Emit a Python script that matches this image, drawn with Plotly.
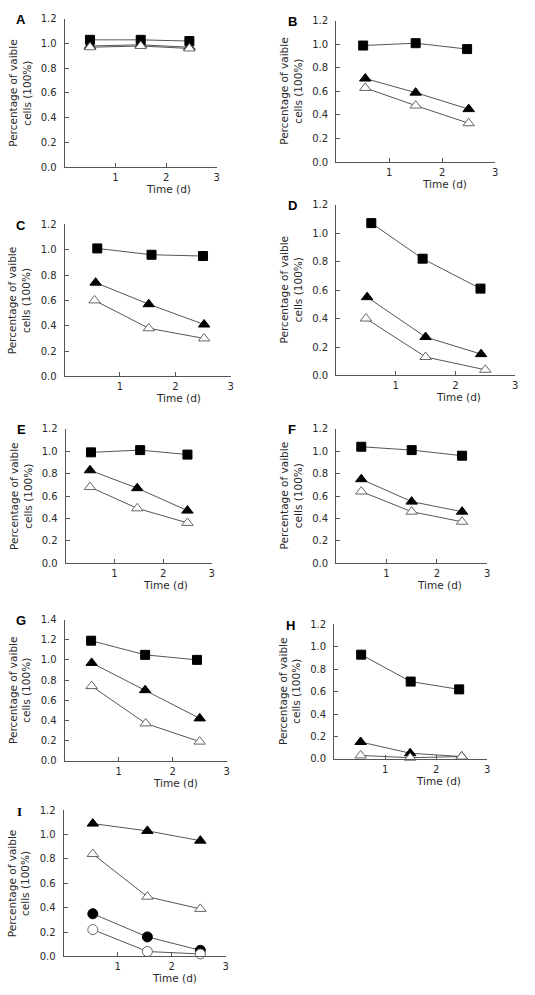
import plotly.graph_objects as go

W, H = 535, 995

# ---- data (x = time in days, y = fraction of viable cells) ----
A_sq_x = [0.5, 1.5, 2.46]; A_sq_y = [1.03, 1.03, 1.02]
A_ft_x = [0.5, 1.5, 2.46]; A_ft_y = [0.98, 0.99, 0.97]
A_ot_x = [0.5, 1.5, 2.46]; A_ot_y = [0.97, 0.98, 0.96]

B_sq_x = [0.51, 1.5, 2.47]; B_sq_y = [0.99, 1.01, 0.96]
B_ft_x = [0.55, 1.5, 2.5]; B_ft_y = [0.71, 0.59, 0.45]
B_ot_x = [0.55, 1.5, 2.5]; B_ot_y = [0.63, 0.48, 0.33]

C_sq_x = [0.59, 1.57, 2.5]; C_sq_y = [1.01, 0.96, 0.95]
C_ft_x = [0.56, 1.52, 2.52]; C_ft_y = [0.74, 0.57, 0.41]
C_ot_x = [0.54, 1.52, 2.52]; C_ot_y = [0.60, 0.38, 0.30]

D_sq_x = [0.59, 1.45, 2.42]; D_sq_y = [1.07, 0.82, 0.61]
D_ft_x = [0.52, 1.5, 2.43]; D_ft_y = [0.55, 0.27, 0.15]
D_ot_x = [0.5, 1.5, 2.5]; D_ot_y = [0.40, 0.13, 0.04]

E_sq_x = [0.52, 1.53, 2.5]; E_sq_y = [0.99, 1.01, 0.97]
E_ft_x = [0.5, 1.47, 2.5]; E_ft_y = [0.83, 0.67, 0.47]
E_ot_x = [0.5, 1.47, 2.5]; E_ot_y = [0.68, 0.49, 0.36]

F_sq_x = [0.5, 1.5, 2.5]; F_sq_y = [1.04, 1.01, 0.96]
F_ft_x = [0.5, 1.5, 2.5]; F_ft_y = [0.75, 0.55, 0.46]
F_ot_x = [0.5, 1.5, 2.5]; F_ot_y = [0.64, 0.46, 0.37]

G_sq_x = [0.49, 1.49, 2.45]; G_sq_y = [1.19, 1.05, 1.00]
G_ft_x = [0.5, 1.49, 2.5]; G_ft_y = [0.97, 0.70, 0.42]
G_ot_x = [0.5, 1.5, 2.5]; G_ot_y = [0.74, 0.37, 0.19]

H_sq_x = [0.53, 1.5, 2.45]; H_sq_y = [0.93, 0.69, 0.62]
H_ft_x = [0.52, 1.49, 2.5]; H_ft_y = [0.15, 0.05, 0.02]
H_ot_x = [0.52, 1.49, 2.5]; H_ot_y = [0.03, 0.01, 0.02]

I_ft_x = [0.54, 1.55, 2.53]; I_ft_y = [1.09, 1.03, 0.95]
I_ot_x = [0.54, 1.55, 2.53]; I_ot_y = [0.84, 0.49, 0.39]
I_fc_x = [0.54, 1.55, 2.53]; I_fc_y = [0.35, 0.16, 0.05]
I_oc_x = [0.54, 1.55, 2.53]; I_oc_y = [0.22, 0.04, 0.02]

x_ticks = [1, 2, 3]
panel_letters = ["A", "B", "C", "D", "E", "F", "G", "H", "I"]
y_title = "Percentage of vaible<br>cells (100%)"
x_title = "Time (d)"

# panel geometry in pixels: left, right, top(ymax), bottom(y=0), ymax
geom = {
    "A": (65, 218, 13, 163, 1.2),
    "B": (338, 498, 15, 158, 1.2),
    "C": (65, 232, 221, 375, 1.2),
    "D": (338, 518, 201, 374, 1.2),
    "E": (66, 213, 428, 564, 1.2),
    "F": (338, 490, 428, 564, 1.2),
    "G": (65, 228, 621, 764, 1.4),
    "H": (336, 490, 626, 762, 1.2),
    "I": (64, 227, 814, 962, 1.2),
}

series = {
    "A": [(A_sq_x, A_sq_y, "sq"), (A_ft_x, A_ft_y, "ft"), (A_ot_x, A_ot_y, "ot")],
    "B": [(B_sq_x, B_sq_y, "sq"), (B_ft_x, B_ft_y, "ft"), (B_ot_x, B_ot_y, "ot")],
    "C": [(C_sq_x, C_sq_y, "sq"), (C_ft_x, C_ft_y, "ft"), (C_ot_x, C_ot_y, "ot")],
    "D": [(D_sq_x, D_sq_y, "sq"), (D_ft_x, D_ft_y, "ft"), (D_ot_x, D_ot_y, "ot")],
    "E": [(E_sq_x, E_sq_y, "sq"), (E_ft_x, E_ft_y, "ft"), (E_ot_x, E_ot_y, "ot")],
    "F": [(F_sq_x, F_sq_y, "sq"), (F_ft_x, F_ft_y, "ft"), (F_ot_x, F_ot_y, "ot")],
    "G": [(G_sq_x, G_sq_y, "sq"), (G_ft_x, G_ft_y, "ft"), (G_ot_x, G_ot_y, "ot")],
    "H": [(H_sq_x, H_sq_y, "sq"), (H_ft_x, H_ft_y, "ft"), (H_ot_x, H_ot_y, "ot")],
    "I": [(I_ft_x, I_ft_y, "ft"), (I_ot_x, I_ot_y, "ot"), (I_fc_x, I_fc_y, "fc"), (I_oc_x, I_oc_y, "oc")],
}

styles = {
    "sq": dict(symbol="square", color="black", line=dict(color="black", width=1), size=9),
    "ft": dict(symbol="triangle-up", color="black", line=dict(color="black", width=1), size=10),
    "ot": dict(symbol="triangle-up", color="white", line=dict(color="#666666", width=1), size=10),
    "fc": dict(symbol="circle", color="black", line=dict(color="black", width=1), size=10),
    "oc": dict(symbol="circle", color="white", line=dict(color="#666666", width=1), size=10),
}

FONT = "DejaVu Sans"
TXT = "#2a2a2a"
fig = go.Figure()
layout = dict(width=W, height=H, margin=dict(l=0, r=0, t=0, b=0),
              paper_bgcolor="white", plot_bgcolor="white", showlegend=False,
              font=dict(family=FONT, size=10, color=TXT))
annotations = []

for i, p in enumerate(panel_letters):
    n = i + 1
    xa = "xaxis" if n == 1 else f"xaxis{n}"
    ya = "yaxis" if n == 1 else f"yaxis{n}"
    xr = "x" if n == 1 else f"x{n}"
    yr = "y" if n == 1 else f"y{n}"
    l, r, t, b, ymax = geom[p]
    layout[xa] = dict(domain=[l / W, r / W], range=[0, 3], anchor=yr,
                      tickvals=x_ticks, ticks="inside", ticklen=4, tickwidth=1,
                      tickcolor="#555", showline=True, linecolor="#555", linewidth=1,
                      showgrid=False, zeroline=False, ticklabelstandoff=1,
                      tickfont=dict(size=10, family=FONT, color=TXT))
    layout[ya] = dict(domain=[1 - b / H, 1 - t / H], range=[0, ymax], anchor=xr,
                      dtick=0.2, tick0=0, tickformat=".1f", ticks="inside", ticklen=4,
                      tickwidth=1, tickcolor="#555", showline=True, linecolor="#555",
                      linewidth=1, showgrid=False, zeroline=False, ticklabelstandoff=5,
                      tickfont=dict(size=10, family=FONT, color=TXT))
    for xs, ys, kind in series[p]:
        st = styles[kind]
        fig.add_trace(go.Scatter(
            x=xs, y=ys, mode="lines+markers", xaxis=xr, yaxis=yr,
            line=dict(color="#555555", width=1),
            marker=dict(symbol=st["symbol"], color=st["color"], size=st["size"],
                        line=st["line"]),
            cliponaxis=False, hoverinfo="skip"))
    # panel letter
    letter_font = "Liberation Serif" if p == "I" else "Liberation Sans"
    annotations.append(dict(text=f"<b>{p}</b>", xref="paper", yref="paper",
                            x=(l - 44) / W, y=1 - (t + 1) / H, xanchor="center",
                            yanchor="middle", showarrow=False,
                            font=dict(family=letter_font, size=13, color="black")))
    # y title
    annotations.append(dict(text=y_title, xref="paper", yref="paper",
                            x=(l - 45) / W, y=1 - ((t + b) / 2) / H, xanchor="center",
                            yanchor="middle", textangle=-90, showarrow=False,
                            font=dict(family=FONT, size=10.5, color=TXT)))
    # x title
    annotations.append(dict(text=x_title, xref=xr, yref="paper", x=2.05,
                            y=1 - (b + 22) / H, xanchor="center", yanchor="middle",
                            showarrow=False, font=dict(family=FONT, size=10.5, color=TXT)))

layout["annotations"] = annotations
fig.update_layout(**layout)
fig.write_html("out.html", config={"displayModeBar": False},
               post_script="document.body.style.margin='0';")
